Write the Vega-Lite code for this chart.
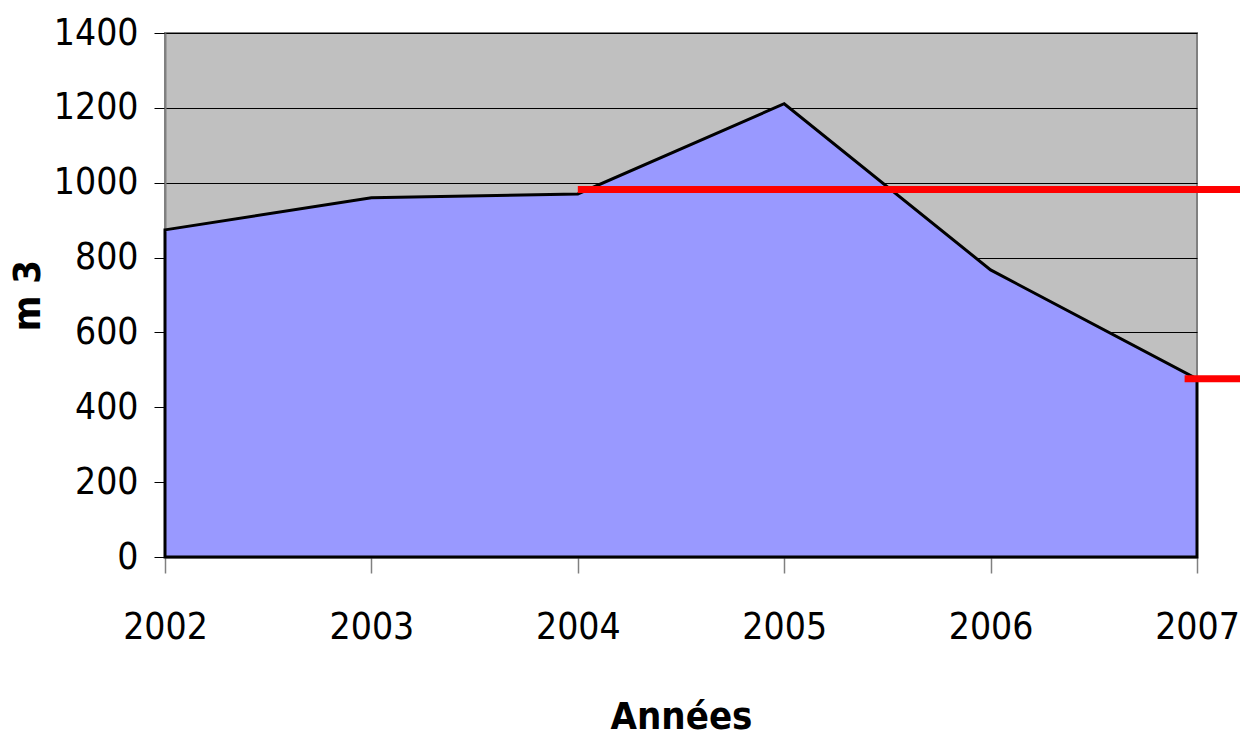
{
  "$schema": "https://vega.github.io/schema/vega-lite/v6.json",
  "width": 1032,
  "height": 524,
  "autosize": "none",
  "padding": {"left": 165, "top": 33, "right": 43, "bottom": 185},
  "background": "white",
  "config": {
    "view": {"fill": "#C0C0C0", "stroke": "#808080", "strokeWidth": 2},
    "font": "DejaVu Sans Condensed, sans-serif"
  },
  "layer": [
    {
      "data": {"values": [
        {"annee": 2002, "m3": 874},
        {"annee": 2003, "m3": 960},
        {"annee": 2004, "m3": 970},
        {"annee": 2005, "m3": 1211},
        {"annee": 2006, "m3": 767},
        {"annee": 2007, "m3": 476}
      ]},
      "mark": {"type": "area", "fill": "#9999FF", "stroke": "black", "strokeWidth": 3, "strokeJoin": "miter"},
      "encoding": {
        "x": {
          "field": "annee", "type": "quantitative",
          "scale": {"domain": [2002, 2007], "nice": false, "zero": false},
          "axis": {
            "values": [2002, 2003, 2004, 2005, 2006, 2007],
            "format": "d",
            "grid": false,
            "labelFlush": false,
            "domainColor": "#808080", "domainWidth": 2,
            "tickColor": "#808080", "tickSize": 16, "tickWidth": 1.5,
            "labelFontSize": 37, "labelColor": "black", "labelPadding": 36,
            "labelFont": "DejaVu Sans Condensed, sans-serif",
            "title": "Années",
            "titleFont": "DejaVu Sans Condensed, sans-serif",
            "titleFontSize": 38, "titleFontWeight": "bold", "titleColor": "black",
            "titlePadding": 53
          }
        },
        "y": {
          "field": "m3", "type": "quantitative",
          "scale": {"domain": [0, 1400], "nice": false},
          "axis": {
            "values": [0, 200, 400, 600, 800, 1000, 1200, 1400],
            "format": "d",
            "grid": true, "gridColor": "black", "gridWidth": 1, "gridOpacity": 1,
            "domainColor": "#808080", "domainWidth": 2,
            "tickColor": "black", "tickSize": 11, "tickWidth": 1,
            "labelFontSize": 37, "labelColor": "black", "labelPadding": 16,
            "labelFont": "DejaVu Sans Condensed, sans-serif",
            "title": "m 3",
            "titleFont": "DejaVu Sans Condensed, sans-serif",
            "titleFontSize": 38, "titleFontWeight": "bold", "titleColor": "black",
            "titlePadding": 6
          }
        }
      }
    },
    {
      "data": {"values": [
        {"x1": 2004, "x2": 2007.21, "niveau": 982},
        {"x1": 2006.94, "x2": 2007.21, "niveau": 476}
      ]},
      "mark": {"type": "rule", "color": "#FF0000", "strokeWidth": 7, "clip": false},
      "encoding": {
        "x": {"field": "x1", "type": "quantitative"},
        "x2": {"field": "x2"},
        "y": {"field": "niveau", "type": "quantitative"}
      }
    }
  ]
}
